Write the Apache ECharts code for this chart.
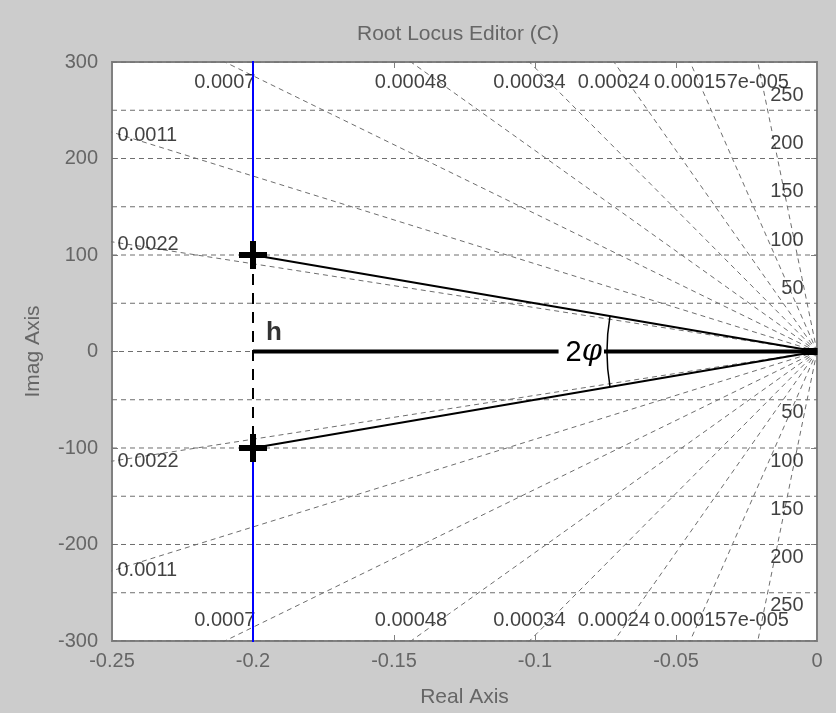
<!DOCTYPE html>
<html>
<head>
<meta charset="utf-8">
<script src="https://cdn.jsdelivr.net/npm/echarts@6/dist/echarts.min.js"></script>
<style>
html,body{margin:0;padding:0;background:#cccccc;}
#chart{width:836px;height:713px;}
</style>
</head>
<body>
<div id="chart"></div>
<script>
// ---- data ----
const realTicks = [-0.25, -0.2, -0.15, -0.1, -0.05, 0];
const imagTicks = [-300, -200, -100, 0, 100, 200, 300];
const dampingValues = [0.0022, 0.0011, 0.0007, 0.00048, 0.00034, 0.00024, 0.00015, 0.00007];
const dampingLabels = ['0.0022', '0.0011', '0.0007', '0.00048', '0.00034', '0.00024', '0.00015', '7e-005'];
const naturalFreqs = [50, 100, 150, 200, 250, 300];
const naturalFreqLabels = ['50', '100', '150', '200', '250', ''];
const closedLoopPoles = [[-0.2, 100], [-0.2, -100]];
const openLoopPole = [0, 0];
const locusUpper = [[-0.2, 100], [-0.2, 400]];
const locusLower = [[-0.2, -100], [-0.2, -400]];

// ---- setup ----
const xMin = realTicks[0], xMax = realTicks[realTicks.length - 1];
const yMin = imagTicks[0], yMax = imagTicks[imagTicks.length - 1];
const FONT = 'Liberation Sans, Arial, sans-serif';
const GREY_TXT = '#666666';
const GRID_COL = '#6e6e6e';
const dash = [5, 4];

const chart = echarts.init(document.getElementById('chart'));
const series = [];

// natural frequency circles
naturalFreqs.forEach(function (wn) {
  [1, -1].forEach(function (s) {
    const pts = [];
    const n = 8;
    for (let i = 0; i <= n; i++) {
      const x = xMin + (xMax - xMin) * i / n;
      pts.push([x, s * Math.sqrt(wn * wn - x * x)]);
    }
    series.push({type: 'line', data: pts, symbol: 'none', silent: true, z: 1,
      lineStyle: {color: GRID_COL, width: 1, type: dash}});
  });
});
// damping rays (plus zeta = 1 ray along real axis)
const R = 2000;
dampingValues.concat([1]).forEach(function (z) {
  [1, -1].forEach(function (s) {
    series.push({type: 'line', data: [[0, 0], [-z * R, s * R * Math.sqrt(1 - z * z)]],
      symbol: 'none', silent: true, z: 1,
      lineStyle: {color: GRID_COL, width: 1, type: dash}});
  });
});

// damping labels
const dampLabelData = [];
dampingValues.forEach(function (z, i) {
  const k = Math.sqrt(1 - z * z);
  const xTop = -z * yMax / k;
  if (xTop >= xMin) {
    dampLabelData.push({value: [xTop, yMax], label: {position: 'inside', offset: [0, 20], formatter: dampingLabels[i]}});
    dampLabelData.push({value: [xTop, yMin], label: {position: 'inside', offset: [0, -21], formatter: dampingLabels[i]}});
  } else {
    const yl = -xMin * k / z;
    dampLabelData.push({value: [xMin, yl], label: {position: 'right', distance: 5, offset: [0, 3], formatter: dampingLabels[i]}});
    dampLabelData.push({value: [xMin, -yl], label: {position: 'right', distance: 5, offset: [0, 0], formatter: dampingLabels[i]}});
  }
});
naturalFreqs.forEach(function (wn, i) {
  if (!naturalFreqLabels[i]) return;
  dampLabelData.push({value: [xMax, wn], label: {position: 'left', distance: 13, offset: [0, -15], formatter: naturalFreqLabels[i]}});
  dampLabelData.push({value: [xMax, -wn], label: {position: 'left', distance: 13, offset: [0, 13], formatter: naturalFreqLabels[i]}});
});
series.push({type: 'scatter', data: dampLabelData, symbolSize: 1, clip: false, silent: true, z: 3,
  itemStyle: {color: 'transparent'},
  label: {show: true, color: '#111111', fontSize: 20, fontFamily: FONT}});

// root locus branches (blue)
[locusUpper, locusLower].forEach(function (seg) {
  series.push({type: 'line', data: seg, symbol: 'none', silent: true, z: 4,
    lineStyle: {color: '#0000ff', width: 2}});
});
// h dashed line between closed loop poles
series.push({type: 'line', data: closedLoopPoles, symbol: 'none', silent: true, z: 4,
  lineStyle: {color: '#000', width: 2, type: [11, 8]}});
// thin lines pole -> origin
closedLoopPoles.forEach(function (p) {
  series.push({type: 'line', data: [p, openLoopPole], symbol: 'none', silent: true, z: 5,
    lineStyle: {color: '#000', width: 2}});
});
// thick real axis segment
series.push({type: 'line', data: [[closedLoopPoles[0][0], 0], openLoopPole], symbol: 'none', silent: true, z: 5,
  lineStyle: {color: '#000', width: 4}});
// arc + 2phi annotation
series.push({type: 'custom', data: [openLoopPole], z: 6, silent: true, clip: false,
  renderItem: function (params, api) {
    const o = api.coord(openLoopPole);
    const pu = api.coord(closedLoopPoles[0]);
    const pl = api.coord(closedLoopPoles[1]);
    const aU = Math.atan2(pu[1] - o[1], pu[0] - o[0]);
    const aL = Math.atan2(pl[1] - o[1], pl[0] - o[0]);
    const r = 210;
    return {type: 'group', children: [
      {type: 'arc', shape: {cx: o[0], cy: o[1], r: r, startAngle: aL, endAngle: aU + 2 * Math.PI, clockwise: true},
        style: {stroke: '#000', fill: null, lineWidth: 1.5}},
      {type: 'text', x: o[0] - r - 3, y: o[1] + 1,
        style: {text: '{a|2}{b|\u03c6}', align: 'right', verticalAlign: 'middle',
          backgroundColor: '#fff', padding: [0, 2, 0, 7],
          rich: {a: {fontSize: 29, fontFamily: FONT, fill: '#000'},
                 b: {fontSize: 29, fontFamily: 'DejaVu Serif', fontStyle: 'italic', fill: '#000'}}}}
    ]};
  }});
// closed-loop poles (plus markers)
series.push({type: 'scatter', data: closedLoopPoles, z: 7, silent: true, clip: false,
  symbol: 'path://M11,0H17V11H28V17H17V28H11V17H0V11H11Z', symbolSize: 28,
  itemStyle: {color: '#000', opacity: 1}});
// open-loop pole at origin
series.push({type: 'scatter', data: [openLoopPole], z: 7, silent: true, clip: false,
  symbol: 'rect', symbolSize: [15, 7], symbolOffset: [-7, 0], itemStyle: {color: '#000', opacity: 1}});
// h label
series.push({type: 'scatter', data: [[closedLoopPoles[0][0], 0]], z: 8, silent: true, clip: false,
  symbolSize: 1, itemStyle: {color: 'transparent'},
  label: {show: true, position: 'inside', offset: [21, -19], formatter: 'h',
    fontSize: 26, fontWeight: 'bold', color: '#000', fontFamily: FONT}});

const fmtX = function (v) { return String(Math.round(v * 100) / 100); };
const tickStyle = {show: true, inside: true, length: 6, lineStyle: {color: '#808080', width: 1}};

chart.setOption({
  animation: false,
  backgroundColor: '#cccccc',
  title: {text: 'Root Locus Editor (C)', left: 357, top: 24, padding: 0,
    textStyle: {color: GREY_TXT, fontSize: 21, fontWeight: 'normal', fontFamily: FONT}},
  grid: {left: 112, right: 19, top: 62, bottom: 70, show: true,
    backgroundColor: '#ffffff', borderColor: '#808080', borderWidth: 2},
  xAxis: [{
    type: 'value', min: xMin, max: xMax, interval: 0.05, position: 'bottom',
    name: 'Real Axis', nameLocation: 'middle', nameGap: 46,
    nameTextStyle: {color: GREY_TXT, fontSize: 21, fontFamily: FONT},
    axisLine: {show: false, onZero: false},
    axisTick: tickStyle,
    axisLabel: {color: GREY_TXT, fontSize: 20, fontFamily: FONT, margin: 10, formatter: fmtX},
    splitLine: {show: false}
  }, {
    type: 'value', min: xMin, max: xMax, interval: 0.05, position: 'top',
    axisLine: {show: false, onZero: false},
    axisTick: tickStyle,
    axisLabel: {show: false}, splitLine: {show: false}
  }],
  yAxis: [{
    type: 'value', min: yMin, max: yMax, interval: 100, position: 'left',
    name: 'Imag Axis', nameLocation: 'middle', nameGap: 68,
    nameTextStyle: {color: GREY_TXT, fontSize: 21, fontFamily: FONT},
    axisLine: {show: false, onZero: false},
    axisTick: tickStyle,
    axisLabel: {color: GREY_TXT, fontSize: 20, fontFamily: FONT, margin: 14},
    splitLine: {show: false}
  }, {
    type: 'value', min: yMin, max: yMax, interval: 100, position: 'right',
    axisLine: {show: false, onZero: false},
    axisTick: tickStyle,
    axisLabel: {show: false}, splitLine: {show: false}
  }],
  series: series
});
</script>
</body>
</html>
